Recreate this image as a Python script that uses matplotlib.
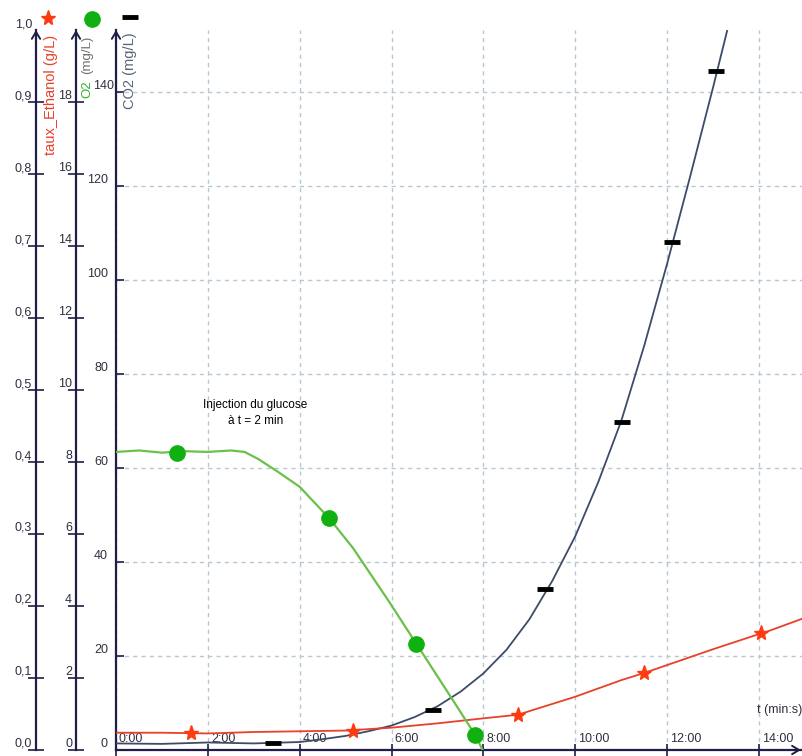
import numpy as np
import matplotlib
matplotlib.use("Agg")
import matplotlib.pyplot as plt
import matplotlib.transforms as mtrans
from matplotlib.lines import Line2D

plt.rcParams['font.family'] = ['Liberation Sans', 'DejaVu Sans']

# ---------------- data ----------------
# CO2 (mg/L) curve and markers
co2_t = [0, 1, 2, 3, 4, 4.5, 5, 5.5, 6, 6.5, 7, 7.5, 8, 8.5, 9, 9.5, 10, 10.5,
         11, 11.5, 12, 12.5, 13, 13.31]
co2_v = [1.4, 1.3, 1.6, 1.4, 1.7, 2.3, 3.0, 4.0, 5.2, 7.0, 9.3, 12.4, 16.3, 21.3,
         27.8, 36.0, 45.5, 57.0, 70.0, 86.0, 103.5, 122.0, 141.0, 153.2]
co2_mt = [3.42, 6.91, 9.35, 11.02, 12.11, 13.07]
co2_mv = [1.5, 8.5, 34.3, 69.8, 108.0, 144.5]

# O2 (mg/L)
o2_t = [0, 0.5, 1.0, 1.5, 2.0, 2.5, 2.8, 3.1, 3.5, 4.0, 4.64, 5.16, 5.93, 6.54,
        7.2, 7.82, 7.98]
o2_v = [8.28, 8.32, 8.26, 8.3, 8.28, 8.32, 8.28, 8.08, 7.75, 7.31, 6.44, 5.61,
        4.15, 2.95, 1.65, 0.42, 0.0]
o2_mt = [1.33, 4.64, 6.54, 7.82]
o2_mv = [8.25, 6.44, 2.95, 0.42]

# taux_Ethanol (g/L)
eth_t = [0, 1, 2, 3, 4, 5, 6, 7, 8, 8.76, 9, 10, 11, 11.5, 12, 13, 14, 14.07, 14.97]
eth_v = [0.024, 0.024, 0.023, 0.025, 0.026, 0.027, 0.031, 0.037, 0.044, 0.049,
         0.054, 0.074, 0.097, 0.107, 0.118, 0.140, 0.161, 0.162, 0.183]
eth_mt = [1.63, 5.16, 8.76, 11.5, 14.05]
eth_mv = [0.024, 0.026, 0.049, 0.107, 0.1625]

# ticks / labels
x_ticks = [0, 2, 4, 6, 8, 10, 12, 14]
x_labels = ['0:00', '2:00', '4:00', '6:00', '8:00', '10:00', '12:00', '14:00']
eth_ticks = [0.0, 0.1, 0.2, 0.3, 0.4, 0.5, 0.6, 0.7, 0.8, 0.9, 1.0]
eth_labels = ['0,0', '0,1', '0,2', '0,3', '0,4', '0,5', '0,6', '0,7', '0,8', '0,9', '1,0']
o2_ticks = [0, 2, 4, 6, 8, 10, 12, 14, 16, 18]
o2_labels = ['0', '2', '4', '6', '8', '10', '12', '14', '16', '18']
co2_ticks = [0, 20, 40, 60, 80, 100, 120, 140]
co2_labels = ['0', '20', '40', '60', '80', '100', '120', '140']

# ---------------- style ----------------
W, H = 803, 756
axcol = '#1e1e48'
txtcol = '#303040'
red = '#e8402a'
red_m = '#ff3a10'
green_l = '#6cc04a'
green_m = '#10b010'
co2col = '#3c4c68'
gridcol = '#b8c8d2'

fig = plt.figure(figsize=(W / 100, H / 100), dpi=100)
rect = [116 / W, 6 / H, 687 / W, 720 / H]
ax = fig.add_axes(rect)
ax_e = fig.add_axes(rect, sharex=ax)
ax_o = fig.add_axes(rect, sharex=ax)
for a in (ax_e, ax_o):
    a.patch.set_visible(False)

ax.set_xlim(0, 687 / 45.93)
ax.set_ylim(0, 720 / 4.7)
ax_e.set_ylim(0, 1.0)
ax_o.set_ylim(0, 20)

fe = (36 - 116) / 687
fo = (76 - 116) / 687
for a in (ax, ax_e, ax_o):
    a.spines['top'].set_visible(False)
    a.spines['right'].set_visible(False)
    a.spines['left'].set_color(axcol)
    a.spines['left'].set_linewidth(1.6)
    a.tick_params(labelleft=False, labelbottom=False)
for a in (ax_e, ax_o):
    a.spines['bottom'].set_visible(False)
    a.tick_params(axis='x', length=0)
ax.spines['bottom'].set_color(axcol)
ax.spines['bottom'].set_linewidth(1.6)
ax_e.spines['left'].set_position(('axes', fe))
ax_o.spines['left'].set_position(('axes', fo))

ax.set_xticks(x_ticks)
ax.set_yticks(co2_ticks)
ax_e.set_yticks(eth_ticks[:-1])
ax_o.set_yticks(o2_ticks)
ax.tick_params(axis='x', direction='inout', length=9, width=1.2, color=axcol)
ax.tick_params(axis='y', direction='in', length=6, width=1.2, color=axcol)
ax_e.tick_params(axis='y', direction='inout', length=11, width=1.2, color=axcol)
ax_o.tick_params(axis='y', direction='inout', length=11, width=1.2, color=axcol)

ax.set_axisbelow(True)
ax.grid(True, linestyle=(0, (3, 3)), color=gridcol, linewidth=1.0)

# tick labels (placed above-left of ticks like the original)
def ylabels(a, frac, ticks, labels, dx, dx_last=None):
    base = mtrans.blended_transform_factory(ax.transAxes, a.transData)
    n = len(ticks)
    for i, (v, lab) in enumerate(zip(ticks, labels)):
        d = dx_last if (dx_last is not None and i == n - 1) else dx
        tr = mtrans.offset_copy(base, fig=fig, x=d, y=0, units='dots')
        a.text(frac, v, lab, transform=tr, ha='right', va='bottom',
               fontsize=9, color=txtcol, clip_on=False)

ylabels(ax_e, fe, eth_ticks, eth_labels, -4)
ylabels(ax_o, fo, o2_ticks, o2_labels, -4)
ylabels(ax, 0.0, co2_ticks, co2_labels, -8, dx_last=-2)

trx = mtrans.offset_copy(ax.get_xaxis_transform(), fig=fig, x=3, y=5, units='dots')
for v, lab in zip(x_ticks, x_labels):
    ax.text(v, 0, lab, transform=trx, ha='left', va='bottom', fontsize=9,
            color=txtcol, clip_on=False)

# arrows on axes
for f in (fe, fo, 0.0):
    ax.annotate('', xy=(f, 1.0), xytext=(f, 0.975), xycoords='axes fraction',
                arrowprops=dict(arrowstyle='->,head_length=0.5,head_width=0.3',
                                color=axcol, lw=1.4, shrinkA=0, shrinkB=0),
                annotation_clip=False)
ax.annotate('', xy=(0.997, 0.0), xytext=(0.97, 0.0), xycoords='axes fraction',
            arrowprops=dict(arrowstyle='->,head_length=0.5,head_width=0.3',
                            color=axcol, lw=1.4, shrinkA=0, shrinkB=0),
            annotation_clip=False)

# data
ax.plot(co2_t, co2_v, color=co2col, lw=1.3, zorder=3)
ax.plot(co2_mt, co2_mv, linestyle='none', marker='_', color='black',
        ms=12, mew=3.5, zorder=4)
ax_e.plot(eth_t, eth_v, color=red, lw=1.3, zorder=3)
ax_e.plot(eth_mt, eth_mv, linestyle='none', marker='*', color=red_m, ms=11,
          mec=red_m, zorder=4)
ax_o.plot(o2_t, o2_v, color=green_l, lw=1.6, zorder=3)
ax_o.plot(o2_mt, o2_mv, linestyle='none', marker='o', color=green_m, ms=11,
          zorder=4)

# annotation
ax.text(3.03, 71.7, 'Injection du glucose\nà t = 2 min', ha='center',
        va='center', fontsize=8.5, color='black', linespacing=1.4)

fig.text(802 / W, 1 - 710 / H, 't (min:s)', ha='right', va='center',
         fontsize=9, color=txtcol)

# axis titles
fig.text(51 / W, 1 - 35 / H, 'taux_Ethanol (g/L)', rotation=90, ha='center',
         va='top', fontsize=10.5, color=red)
fig.text(87 / W, 1 - 36 / H, '(mg/L)', rotation=90, ha='center',
         va='top', fontsize=9.5, color='#707070')
fig.text(87 / W, 1 - 98 / H, 'O2', rotation=90, ha='center', va='bottom',
         fontsize=9.5, color='#30b030')
fig.text(130 / W, 1 - 32 / H, 'CO2 (mg/L)', rotation=90, ha='center',
         va='top', fontsize=10.5, color='#586478')

# legend symbols at top
fig.add_artist(Line2D([48 / W], [1 - 18 / H], marker='*', color=red_m, ms=11,
                      transform=fig.transFigure, linestyle='none'))
fig.add_artist(Line2D([92 / W], [1 - 19 / H], marker='o', color=green_m, ms=11,
                      transform=fig.transFigure, linestyle='none'))
fig.add_artist(Line2D([130 / W], [1 - 17 / H], marker='_', color='black', ms=12,
                      mew=3.5, transform=fig.transFigure, linestyle='none'))

fig.savefig('out.png', dpi=100)
